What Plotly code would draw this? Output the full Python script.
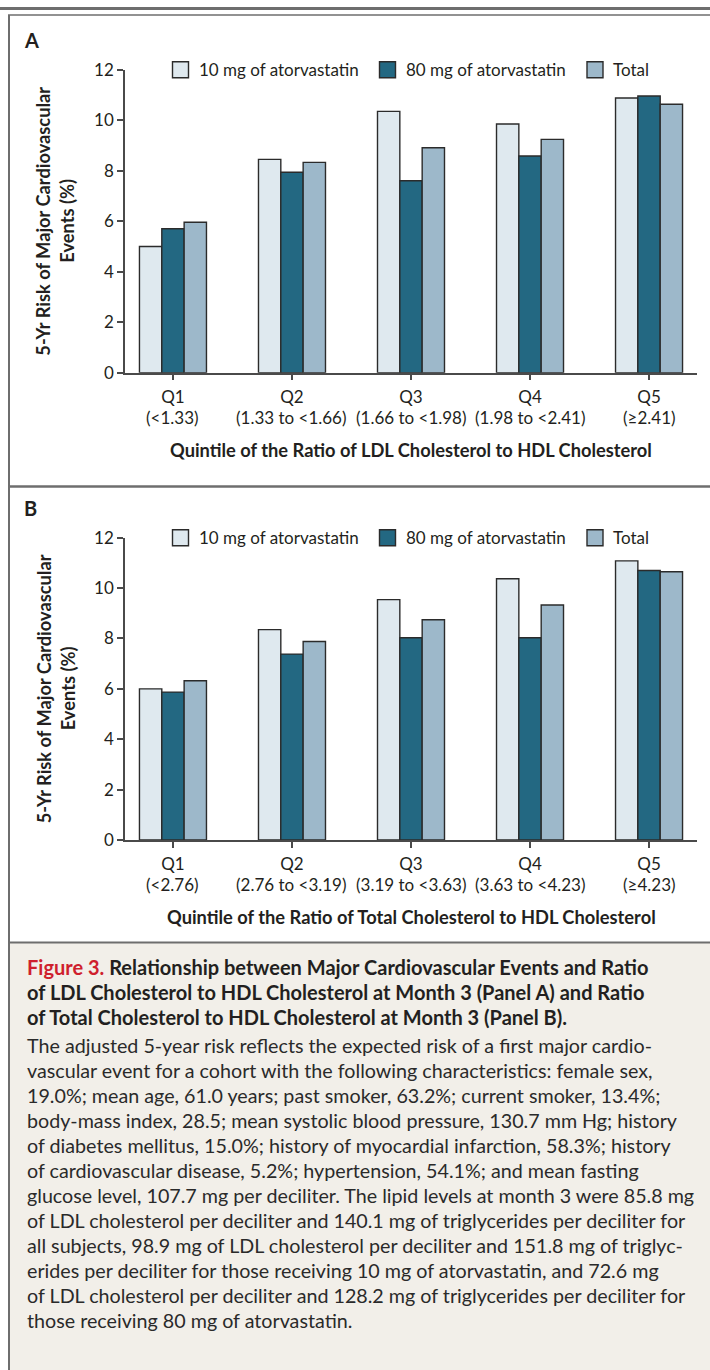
import plotly.graph_objects as go

# ---------------- data ----------------
quintiles = ["Q1", "Q2", "Q3", "Q4", "Q5"]
ranges_a = ["(<1.33)", "(1.33 to <1.66)", "(1.66 to <1.98)", "(1.98 to <2.41)", "(≥2.41)"]
ranges_b = ["(<2.76)", "(2.76 to <3.19)", "(3.19 to <3.63)", "(3.63 to <4.23)", "(≥4.23)"]
series_names = ["10 mg of atorvastatin", "80 mg of atorvastatin", "Total"]

a_10mg = [5.0, 8.45, 10.35, 9.85, 10.88]
a_80mg = [5.70, 7.94, 7.60, 8.58, 10.96]
a_total = [5.96, 8.33, 8.91, 9.24, 10.63]

b_10mg = [6.00, 8.35, 9.54, 10.37, 11.08]
b_80mg = [5.87, 7.38, 8.03, 8.03, 10.70]
b_total = [6.32, 7.88, 8.74, 9.33, 10.65]

y_ticks = [0, 2, 4, 6, 8, 10, 12]
y_title_1 = "5-Yr Risk of Major Cardiovascular"
y_title_2 = "Events (%)"
x_title_a = "Quintile of the Ratio of LDL Cholesterol to HDL Cholesterol"
x_title_b = "Quintile of the Ratio of Total Cholesterol to HDL Cholesterol"

caption_label = "Figure 3."
caption_title = [
    "Relationship between Major Cardiovascular Events and Ratio",
    "of LDL Cholesterol to HDL Cholesterol at Month 3 (Panel A) and Ratio",
    "of Total Cholesterol to HDL Cholesterol at Month 3 (Panel B).",
]
caption_body = [
    "The adjusted 5-year risk reflects the expected risk of a first major cardio-",
    "vascular event for a cohort with the following characteristics: female sex,",
    "19.0%; mean age, 61.0 years; past smoker, 63.2%; current smoker, 13.4%;",
    "body-mass index, 28.5; mean systolic blood pressure, 130.7 mm Hg; history",
    "of diabetes mellitus, 15.0%; history of myocardial infarction, 58.3%; history",
    "of cardiovascular disease, 5.2%; hypertension, 54.1%; and mean fasting",
    "glucose level, 107.7 mg per deciliter. The lipid levels at month 3 were 85.8 mg",
    "of LDL cholesterol per deciliter and 140.1 mg of triglycerides per deciliter for",
    "all subjects, 98.9 mg of LDL cholesterol per deciliter and 151.8 mg of triglyc-",
    "erides per deciliter for those receiving 10 mg of atorvastatin, and 72.6 mg",
    "of LDL cholesterol per deciliter and 128.2 mg of triglycerides per deciliter for",
    "those receiving 80 mg of atorvastatin.",
]

# ---------------- style ----------------
W, H = 710, 1370
FONT = "Lato"
colors = ["#dfe9ef", "#236882", "#9db8ca"]
outline = "#2b2b2b"
axis_col = "#4a4a4a"
text_col = "#231f20"
frame_col = "#6e6e6e"
caption_bg = "#f2efe9"
red = "#cf1f2e"


def px_x(x):
    return x / W


def px_y(y):
    return 1 - y / H


fig = go.Figure()

panels = [
    dict(xa="x", ya="y", data=[a_10mg, a_80mg, a_total], ranges=ranges_a,
         xtitle=x_title_a, top=69.7, bottom=372.7, label="A", label_y=40),
    dict(xa="x2", ya="y2", data=[b_10mg, b_80mg, b_total], ranges=ranges_b,
         xtitle=x_title_b, top=537.7, bottom=840.0, label="B", label_y=508),
]

x_left, x_right = 125, 697

annotations = []
shapes = []

for p in panels:
    for name, vals, col in zip(series_names, p["data"], colors):
        fig.add_trace(go.Bar(
            x=quintiles, y=vals, name=name, xaxis=p["xa"], yaxis=p["ya"],
            marker=dict(color=col, line=dict(color=outline, width=1.4)),
            showlegend=False, hoverinfo="skip",
        ))
    xref_dom = p["xa"] + " domain"
    yref_dom = p["ya"] + " domain"
    # range labels under the quintile tick labels
    for q, r in zip(quintiles, p["ranges"]):
        annotations.append(dict(
            x=q, xref=p["xa"], y=0, yref=yref_dom, yshift=-44.5,
            text=r, showarrow=False, yanchor="middle", xanchor="center",
            font=dict(family=FONT, size=17, color=text_col)))
    # x-axis title
    annotations.append(dict(
        x=0.5, xref=xref_dom, y=0, yref=yref_dom, yshift=-77,
        text="<b>" + p["xtitle"] + "</b>", showarrow=False,
        yanchor="middle", xanchor="center",
        font=dict(family=FONT, size=18.3, color=text_col)))
    # y-axis title (two lines)
    ymid = px_y((p["top"] + p["bottom"]) / 2)
    annotations.append(dict(
        x=px_x(43.5), xref="paper", y=ymid, yref="paper", textangle=-90,
        text="<b>" + y_title_1 + "</b>", showarrow=False,
        xanchor="center", yanchor="middle",
        font=dict(family=FONT, size=18.3, color=text_col)))
    annotations.append(dict(
        x=px_x(67.5), xref="paper", y=ymid, yref="paper", textangle=-90,
        text="<b>" + y_title_2 + "</b>", showarrow=False,
        xanchor="center", yanchor="middle",
        font=dict(family=FONT, size=18.3, color=text_col)))
    # panel label
    annotations.append(dict(
        x=px_x(22), xref="paper", y=px_y(p["label_y"]), yref="paper",
        text="<b>" + p["label"] + "</b>", showarrow=False,
        xanchor="left", yanchor="middle",
        font=dict(family=FONT, size=20, color=text_col)))
    # legend drawn as boxes + labels
    leg_y = p["top"]
    sq_x = [172.5, 379.5, 587.0]
    for sx, name, col in zip(sq_x, series_names, colors):
        shapes.append(dict(
            type="rect", xref="paper", yref="paper",
            x0=px_x(sx), x1=px_x(sx + 16), y0=px_y(leg_y - 8), y1=px_y(leg_y + 8),
            fillcolor=col, line=dict(color=outline, width=1.4)))
        annotations.append(dict(
            x=px_x(sx + 24), xref="paper", y=px_y(leg_y), yref="paper",
            text=name, showarrow=False, xanchor="left", yanchor="middle",
            font=dict(family=FONT, size=17, color=text_col)))

axis_common = dict(
    showline=True, linecolor=axis_col, linewidth=1.5, ticks="outside",
    ticklen=6, tickwidth=1.5, tickcolor=axis_col, showgrid=False, zeroline=False,
    tickfont=dict(family=FONT, size=17, color=text_col), automargin=False,
)

layout_axes = {}
for i, p in enumerate(panels):
    suffix = "" if i == 0 else "2"
    layout_axes["xaxis" + suffix] = dict(
        axis_common, domain=[px_x(x_left), px_x(x_right)],
        anchor="y" + suffix, type="category", range=[-0.403, 4.403],
        categoryorder="array", categoryarray=quintiles, ticklabelstandoff=2)
    layout_axes["yaxis" + suffix] = dict(
        axis_common, domain=[px_y(p["bottom"]), px_y(p["top"])],
        anchor="x" + suffix, range=[0, 12], tickvals=y_ticks)

# frame lines and caption background
shapes = [
    dict(type="rect", xref="paper", yref="paper", x0=px_x(9), x1=1.0,
         y0=0, y1=px_y(943), fillcolor=caption_bg, line=dict(width=0), layer="below"),
    dict(type="line", xref="paper", yref="paper", x0=0, x1=1, y0=px_y(8.5), y1=px_y(8.5),
         line=dict(color=frame_col, width=3)),
    dict(type="line", xref="paper", yref="paper", x0=px_x(8), x1=1, y0=px_y(15), y1=px_y(15),
         line=dict(color=frame_col, width=1.5)),
    dict(type="line", xref="paper", yref="paper", x0=px_x(9), x1=px_x(9), y0=0, y1=px_y(15),
         line=dict(color=frame_col, width=2)),
    dict(type="line", xref="paper", yref="paper", x0=px_x(9), x1=1, y0=px_y(486.5), y1=px_y(486.5),
         line=dict(color=frame_col, width=2.5)),
    dict(type="line", xref="paper", yref="paper", x0=px_x(9), x1=1, y0=px_y(942.5), y1=px_y(942.5),
         line=dict(color=frame_col, width=2)),
] + shapes

# caption text
cap_x = px_x(25)
title_base = [974, 999, 1024]
for i, line in enumerate(caption_title):
    txt = ("<span style='color:%s'>%s</span> " % (red, caption_label) if i == 0 else "") + line
    annotations.append(dict(
        x=cap_x, xref="paper", y=px_y(title_base[i] - 7), yref="paper",
        text="<b>" + txt + "</b>", showarrow=False, xanchor="left", yanchor="middle",
        font=dict(family=FONT, size=20, color=text_col)))
for i, line in enumerate(caption_body):
    base = 1052 + 25.08 * i
    annotations.append(dict(
        x=cap_x, xref="paper", y=px_y(base - 7), yref="paper",
        text=line, showarrow=False, xanchor="left", yanchor="middle",
        font=dict(family=FONT, size=19.7, color="#2a2a2a")))

fig.update_layout(
    width=W, height=H, margin=dict(l=0, r=0, t=0, b=0, autoexpand=False),
    paper_bgcolor="white", plot_bgcolor="rgba(0,0,0,0)",
    barmode="group", bargap=0.437, bargroupgap=0,
    showlegend=False, shapes=shapes, annotations=annotations,
    font=dict(family=FONT, color=text_col),
    **layout_axes,
)

fig.write_html(
    "out.html",
    config={"displayModeBar": False},
    post_script="document.body.style.margin='0px';document.body.style.overflow='hidden';",
)
